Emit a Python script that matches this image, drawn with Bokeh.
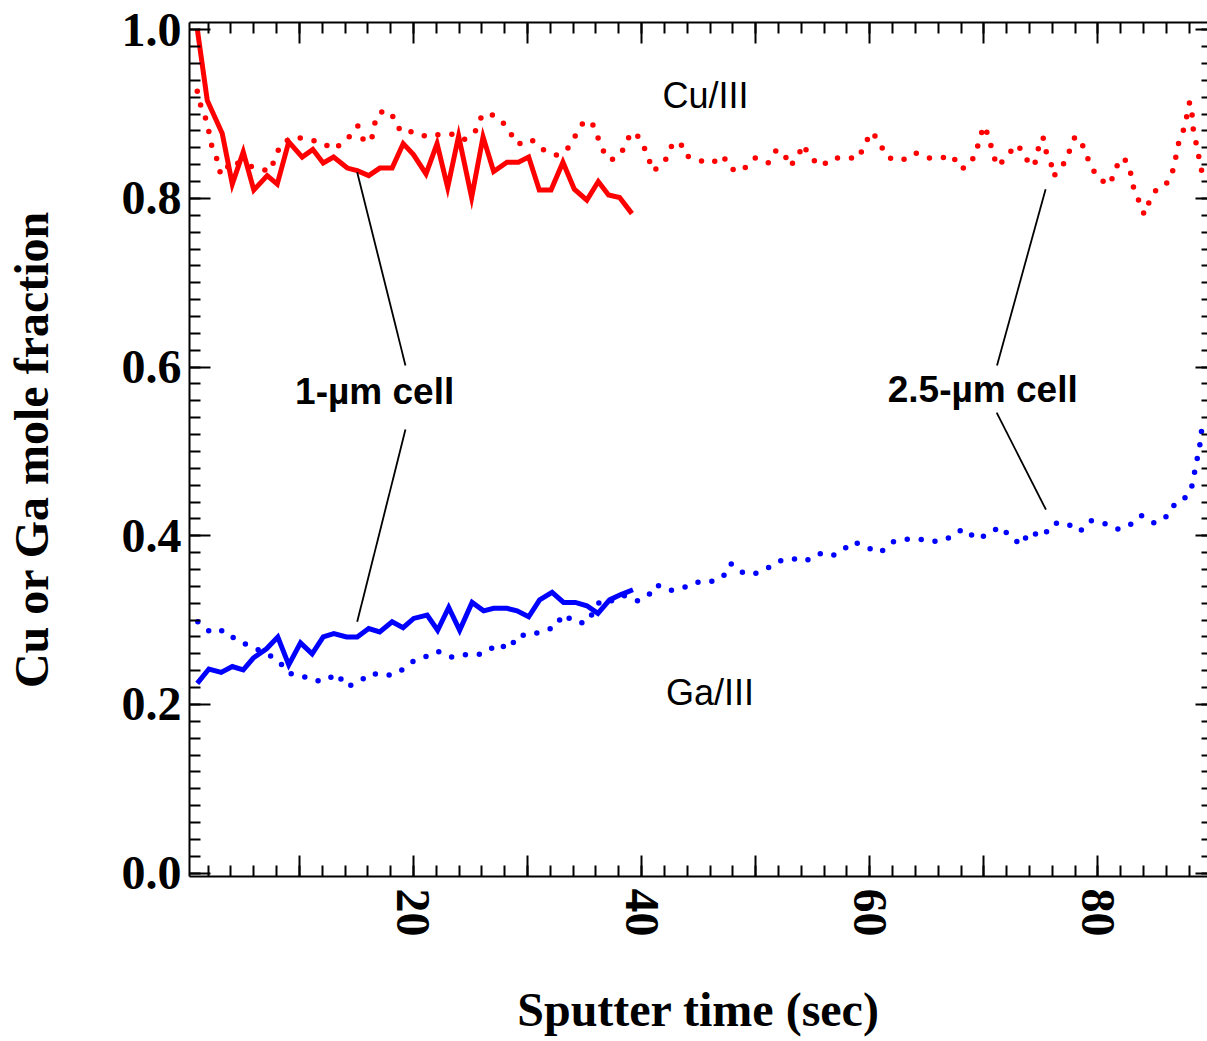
from bokeh.plotting import figure
from bokeh.models import Range1d, FixedTicker, LinearAxis, CustomJSTickFormatter
from bokeh.core.properties import value
from bokeh.embed import file_html
from bokeh.resources import INLINE

# ---------------- data ----------------
# 1-um cell, Cu/III (solid red)
cu1_x = [1.05, 1.93, 3.24, 4.12, 5.08, 6.01, 7.18, 8.06, 9.07, 10.25, 11.18, 12.09, 13.0,
         14.2, 15.07, 16.08, 17.05, 18.13, 19.1, 20.0, 21.1, 22.07, 23.0, 23.96, 25.1,
         26.1, 27.03, 28.2, 29.2, 30.1, 31.03, 32.06, 33.1, 34.1, 35.2, 36.2, 37.1, 38.07, 39.15]
cu1_y = [1.001, 0.916, 0.877, 0.817, 0.855, 0.810, 0.827, 0.817, 0.867, 0.849, 0.858, 0.842,
         0.849, 0.836, 0.833, 0.827, 0.836, 0.836, 0.865, 0.852, 0.829, 0.865, 0.813, 0.874,
         0.801, 0.873, 0.832, 0.843, 0.843, 0.849, 0.810, 0.810, 0.843, 0.811, 0.798, 0.820,
         0.804, 0.801, 0.782]

# 1-um cell, Ga/III (solid blue)
ga1_x = [1.05, 2.07, 3.15, 4.12, 5.08, 5.96, 7.12, 8.11, 9.07, 10.1, 11.12, 12.09, 13.02,
         14.13, 15.07, 16.08, 17.04, 18.13, 19.09, 20.02, 21.2, 22.12, 23.09, 24.05, 25.14,
         26.15, 27.03, 28.2, 29.08, 30.1, 31.06, 32.15, 33.16, 34.19, 35.2, 36.17, 37.19,
         38.13, 39.24]
ga1_y = [0.225, 0.242, 0.238, 0.245, 0.241, 0.255, 0.266, 0.280, 0.247, 0.273, 0.260, 0.280,
         0.284, 0.280, 0.280, 0.290, 0.286, 0.298, 0.291, 0.302, 0.306, 0.288, 0.315, 0.288,
         0.321, 0.311, 0.314, 0.314, 0.311, 0.304, 0.324, 0.333, 0.321, 0.321, 0.317, 0.308,
         0.324, 0.330, 0.336]

# 2.5-um cell, Cu/III (dotted red)
cu25_x = [1.05, 1.34, 1.78, 2.07, 2.28, 2.74, 3.0, 3.44, 3.91, 5.78, 7.41, 7.88, 8.35, 9.51,
          10.69, 11.85, 13.02, 14.19, 15.12, 15.59, 16.29, 16.52, 16.76, 17.46, 18.39, 18.86,
          20.02, 21.2, 22.36, 23.53, 24.46, 25.4, 25.86, 26.57, 27.73, 28.43, 29.13, 30.31,
          31.47, 32.64, 33.57, 34.27, 34.97, 35.67, 36.14, 36.61, 37.31, 38.24, 38.71, 39.41,
          40.12, 40.58, 41.04, 42.22, 42.68, 43.38, 43.85, 45.02, 46.19, 47.12, 47.82, 48.75,
          49.93, 51.09, 51.79, 52.49, 52.96, 53.66, 54.13, 54.83, 55.76, 56.7, 57.86, 59.06,
          59.5, 60.23, 60.9, 61.63, 62.8, 63.97, 65.13, 66.3, 67.23, 67.93, 68.63, 69.34,
          69.57, 70.04, 70.51, 70.74, 71.21, 71.91, 72.84, 73.54, 74.01, 74.48, 74.71, 75.18,
          75.41, 75.88, 76.11, 77.04, 77.52, 77.98, 78.44, 78.92, 79.38, 80.08, 81.02, 81.48,
          81.95, 82.42, 82.89, 83.12, 83.59, 84.05, 84.52, 85.22, 86.15, 86.62, 86.85, 87.09,
          87.55, 87.79, 88.03, 88.25, 88.25, 88.49, 88.73, 88.95, 89.19, 89.42]
cu25_y = [0.927, 0.911, 0.895, 0.879, 0.864, 0.848, 0.832, 0.828, 0.844, 0.838, 0.832, 0.848,
          0.864, 0.873, 0.870, 0.867, 0.858, 0.870, 0.886, 0.870, 0.867, 0.883, 0.898, 0.905,
          0.895, 0.879, 0.879, 0.873, 0.876, 0.876, 0.870, 0.879, 0.895, 0.902, 0.892, 0.879,
          0.864, 0.870, 0.857, 0.851, 0.860, 0.876, 0.892, 0.889, 0.873, 0.857, 0.845, 0.854,
          0.870, 0.879, 0.864, 0.848, 0.832, 0.848, 0.864, 0.867, 0.851, 0.845, 0.842, 0.851,
          0.835, 0.832, 0.848, 0.842, 0.857, 0.854, 0.838, 0.848, 0.864, 0.848, 0.838, 0.848,
          0.848, 0.848, 0.864, 0.879, 0.864, 0.848, 0.845, 0.854, 0.848, 0.848, 0.851, 0.835,
          0.838, 0.854, 0.870, 0.886, 0.870, 0.854, 0.838, 0.848, 0.864, 0.854, 0.838, 0.842,
          0.857, 0.873, 0.857, 0.842, 0.826, 0.842, 0.857, 0.873, 0.870, 0.854, 0.838, 0.823,
          0.816, 0.832, 0.848, 0.845, 0.829, 0.813, 0.797, 0.781, 0.797, 0.813, 0.819, 0.835,
          0.851, 0.867, 0.883, 0.898, 0.914, 0.905, 0.889, 0.873, 0.857, 0.842, 0.826, 0.829]

# 2.5-um cell, Ga/III (dotted blue)
ga25_x = [1.10, 2.28, 3.38, 4.61, 5.78, 8.11, 9.05, 10.21, 11.39, 12.32, 13.25, 14.19, 15.35,
          16.29, 17.46, 18.62, 19.8, 20.96, 22.12, 23.3, 24.46, 25.63, 26.57, 27.27, 28.43,
          29.13, 30.31, 31.47, 32.41, 33.11, 34.27, 35.21, 36.38, 37.54, 38.48, 39.64, 40.58,
          41.28, 42.45, 43.62, 44.78, 45.95, 47.12, 47.82, 48.75, 49.69, 50.85, 52.03, 53.19,
          54.36, 55.53, 56.7, 57.63, 58.56, 59.74, 60.9, 62.07, 63.24, 64.4, 65.57, 66.74,
          67.67, 68.37, 69.31, 70.47, 71.41, 72.35, 73.28, 73.98, 75.15, 76.08, 77.25, 78.42,
          79.36, 80.52, 81.69, 82.62, 83.79, 84.96, 86.13, 86.83, 87.76, 88.23, 88.46, 88.69,
          88.93, 88.93, 89.51]
ga25_y = [0.298, 0.285, 0.288, 0.275, 0.269, 0.253, 0.237, 0.234, 0.228, 0.228, 0.237, 0.221,
          0.228, 0.237, 0.234, 0.237, 0.250, 0.256, 0.263, 0.256, 0.259, 0.259, 0.263, 0.272,
          0.266, 0.282, 0.282, 0.288, 0.291, 0.307, 0.297, 0.297, 0.323, 0.323, 0.329, 0.323,
          0.329, 0.342, 0.335, 0.338, 0.345, 0.345, 0.351, 0.367, 0.357, 0.354, 0.360, 0.370,
          0.373, 0.370, 0.379, 0.376, 0.383, 0.393, 0.386, 0.380, 0.393, 0.396, 0.396, 0.393,
          0.396, 0.405, 0.408, 0.396, 0.402, 0.411, 0.399, 0.389, 0.405, 0.399, 0.415, 0.415,
          0.405, 0.418, 0.415, 0.408, 0.411, 0.424, 0.415, 0.424, 0.440, 0.446, 0.459, 0.475,
          0.491, 0.506, 0.522, 0.529]

# ticks
x_major_ticks = [10, 20, 30, 40, 50, 60, 70, 80, 90]
x_minor_ticks = [2 * i for i in range(1, 46)]
y_major_ticks = [0.0, 0.2, 0.4, 0.6, 0.8, 1.0]
y_minor_ticks = [round(0.02 * i, 2) for i in range(0, 51)]

# annotations
species_labels = ["Cu/III", "Ga/III"]
species_x = [45.6, 46.0]
species_y = [0.922, 0.214]
cell_labels = ["1-\u00b5m cell", "2.5-\u00b5m cell"]
cell_x = [16.6, 69.9]
cell_y = [0.571, 0.573]
leader_x0 = [15.07, 19.30, 75.41, 71.12]
leader_y0 = [0.831, 0.526, 0.811, 0.546]
leader_x1 = [19.30, 15.07, 71.15, 75.44]
leader_y1 = [0.602, 0.298, 0.602, 0.431]

# ---------------- figure ----------------
p = figure(width=1207, height=1041, output_backend="svg", toolbar_location=None,
           x_range=Range1d(0.37, 89.6), y_range=Range1d(-0.004, 1.0086),
           min_border_left=189, min_border_top=22, min_border_bottom=165,
           min_border_right=0)
p.grid.visible = False
p.outline_line_color = None
p.background_fill_color = "white"
p.border_fill_color = "white"

SERIF = "Liberation Serif"
SANS = "Liberation Sans"


def style_axis(ax):
    ax.major_tick_in = 21
    ax.major_tick_out = 0
    ax.minor_tick_in = 11
    ax.minor_tick_out = 0
    ax.axis_line_width = 2
    ax.major_tick_line_width = 2
    ax.minor_tick_line_width = 2
    ax.axis_line_color = "black"
    ax.major_tick_line_color = "black"
    ax.minor_tick_line_color = "black"
    ax.major_label_text_font = SERIF
    ax.major_label_text_font_style = "bold"
    ax.major_label_text_color = "black"
    ax.axis_label_text_font = SERIF
    ax.axis_label_text_font_style = "bold"
    ax.axis_label_text_color = "black"


xt = FixedTicker(ticks=x_major_ticks, minor_ticks=x_minor_ticks)
yt = FixedTicker(ticks=y_major_ticks, minor_ticks=y_minor_ticks)

xa = p.xaxis[0]
xa.ticker = xt
xa.formatter = CustomJSTickFormatter(code="return (Math.round(tick) % 20 == 0) ? String(Math.round(tick)) : '';")
style_axis(xa)
xa.major_label_orientation = "vertical"
xa.major_label_text_font_size = "48px"
xa.major_label_standoff = 12
xa.axis_label = "Sputter time (sec)"
xa.axis_label_text_font_size = "48px"
xa.axis_label_standoff = 43

ya = p.yaxis[0]
ya.ticker = yt
ya.formatter = CustomJSTickFormatter(code="return tick.toFixed(1);")
style_axis(ya)
ya.major_label_text_font_size = "48px"
ya.major_label_standoff = 8
ya.axis_label = "Cu or Ga mole fraction"
ya.axis_label_text_font_size = "48px"
ya.axis_label_standoff = 61

for loc, tk in (("above", xt), ("right", yt)):
    ax = LinearAxis(ticker=tk)
    style_axis(ax)
    ax.major_label_text_font_size = "0px"
    ax.major_label_standoff = 0
    ax.major_label_text_alpha = 0
    if loc == "right":
        ax.axis_line_color = None
        ax.major_tick_in = 12
        ax.minor_tick_in = 6
    p.add_layout(ax, loc)

# ---------------- series ----------------
p.line(cu25_x, cu25_y, line_color="#ff0000", line_width=5.5, line_dash="0 14", line_cap="round")
p.line(ga25_x, ga25_y, line_color="#0000ff", line_width=5.5, line_dash="0 14", line_cap="round")
p.line(cu1_x, cu1_y, line_color="#ff0000", line_width=5, line_join="miter")
p.line(ga1_x, ga1_y, line_color="#0000ff", line_width=5, line_join="miter")

p.segment(x0=leader_x0, y0=leader_y0, x1=leader_x1, y1=leader_y1,
          line_color="black", line_width=1.8)

p.text(x=species_x, y=species_y, text=species_labels, text_font=value(SANS),
       text_font_size="36px", text_align="center", text_baseline="middle",
       text_color="black")
p.text(x=cell_x, y=cell_y, text=cell_labels, text_font=value(SANS),
       text_font_size="37px", text_font_style="bold", text_align="center",
       text_baseline="middle", text_color="black")

open("out.html", "w").write(file_html(p, INLINE))
